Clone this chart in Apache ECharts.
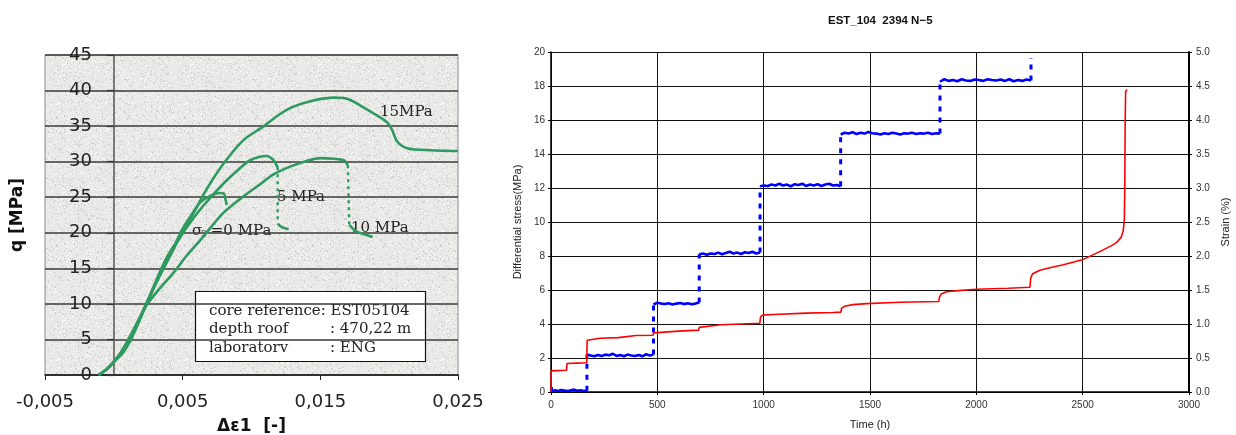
<!DOCTYPE html>
<html>
<head>
<meta charset="utf-8">
<title>EST05104</title>
<script src="https://cdn.jsdelivr.net/npm/echarts@6/dist/echarts.min.js"></script>
<style>
html, body { margin: 0; padding: 0; background: #fff; }
#myChart { width: 1236px; height: 435px; }
</style>
</head>
<body>
<div id="myChart"></div>
<script>
// ---------- left chart: q [MPa] vs delta eps1 ----------
// sigma3 = 0 MPa
const sig0Strain = [-0.0011, -0.0005, 0.0002, 0.0009, 0.0016, 0.0023, 0.0030, 0.0037, 0.0044, 0.0050, 0.0057, 0.0063, 0.0070, 0.0077, 0.0080, 0.0081, 0.0082];
const sig0Q      = [0, 0.9, 2.3, 4.3, 6.8, 9.8, 12.8, 15.6, 18.2, 20.6, 22.7, 24.3, 25.2, 25.6, 25.5, 24.8, 23.9];
// 5 MPa
const sig5Strain = [-0.0011, -0.0004, 0.0003, 0.0010, 0.0018, 0.0025, 0.0032, 0.0040, 0.0047, 0.0055, 0.0065, 0.0080, 0.0090, 0.0099, 0.0111, 0.0116, 0.0119];
const sig5Q      = [0, 1.0, 2.5, 4.6, 7.6, 10.5, 13.4, 16.4, 19.0, 21.3, 23.8, 27.0, 28.8, 30.2, 30.8, 30.2, 29.2];
const sig5TailStrain = [0.0119, 0.0122, 0.0127];
const sig5TailQ      = [21.3, 20.8, 20.5];
// 10 MPa
const sig10Strain = [-0.0011, -0.0004, 0.0003, 0.0010, 0.0017, 0.0023, 0.0033, 0.0043, 0.0053, 0.0063, 0.0079, 0.0092, 0.0104, 0.0116, 0.0128, 0.0140, 0.0150, 0.0160, 0.0167, 0.0170];
const sig10Q      = [0, 1.0, 2.6, 4.8, 7.4, 9.6, 12.1, 14.3, 16.8, 19.0, 22.7, 24.8, 26.5, 28.2, 29.3, 30.1, 30.5, 30.4, 30.2, 29.5];
const sig10TailStrain = [0.0171, 0.0176, 0.0182, 0.0188];
const sig10TailQ      = [21.1, 20.2, 19.8, 19.4];
// 15 MPa
const sig15Strain = [-0.0011, -0.0005, 0.0000, 0.0007, 0.0013, 0.0019, 0.0025, 0.0031, 0.0037, 0.0043, 0.0048, 0.0058, 0.0067, 0.0080, 0.0094, 0.0109, 0.0120, 0.0130, 0.0145, 0.0160, 0.0170, 0.0185, 0.0198, 0.0202, 0.0206, 0.0213, 0.0230, 0.0250];
const sig15Q      = [0, 0.8, 1.8, 3.2, 5.2, 7.8, 10.6, 13.4, 16.0, 18.0, 19.3, 22.8, 26.0, 29.8, 33.0, 35.0, 36.6, 37.7, 38.6, 39.0, 38.8, 37.2, 35.6, 34.5, 32.8, 31.9, 31.6, 31.5];

// ---------- right chart: creep test ----------
// stress plateaus (MPa) between the load steps
const stressStepTimes = [169, 482, 697, 983, 1362, 1829, 2257];
const stressPlateau1 = [0.05, 0.1, 0.06, 0.12, 0.08, 0.05, 0.1, 0.14, 0.07, 0.1, 0.06, 0.08];
const stressPlateau2 = [2.2, 2.15, 2.1, 2.18, 2.12, 2.2, 2.16, 2.25, 2.12, 2.18, 2.1, 2.2, 2.15, 2.12, 2.18, 2.1, 2.22, 2.15, 2.2];
const stressPlateau3 = [5.15, 5.25, 5.2, 5.18, 5.22, 5.15, 5.2, 5.24, 5.17, 5.22, 5.16, 5.2, 5.26];
const stressPlateau4 = [8.1, 8.15, 8.08, 8.15, 8.12, 8.2, 8.1, 8.18, 8.25, 8.15, 8.2, 8.12, 8.22, 8.18, 8.25, 8.15, 8.2];
const stressPlateau5 = [12.1, 12.15, 12.12, 12.2, 12.15, 12.25, 12.15, 12.2, 12.1, 12.22, 12.18, 12.25, 12.12, 12.2, 12.15, 12.22, 12.12, 12.2, 12.25, 12.15, 12.18, 12.1];
const stressPlateau6 = [15.15, 15.25, 15.2, 15.28, 15.18, 15.25, 15.2, 15.3, 15.22, 15.2, 15.15, 15.22, 15.18, 15.25, 15.2, 15.15, 15.22, 15.2, 15.25, 15.18, 15.22, 15.2, 15.25, 15.18, 15.22, 15.2];
const stressPlateau7 = [18.25, 18.4, 18.3, 18.35, 18.28, 18.4, 18.32, 18.3, 18.38, 18.35, 18.3, 18.4, 18.35, 18.32, 18.38, 18.3, 18.4, 18.28, 18.35, 18.3, 18.38, 18.32];
const stressStartSpike = [[2, 0], [2, 0.6]];
const stressLast = 19.65;

// strain (%)
const strainTime = [0, 1, 20, 73, 75, 120, 168, 170, 175, 230, 316, 319, 400, 480, 483, 490, 600, 694, 697, 705, 800, 982, 985, 995, 1045, 1200, 1327, 1363, 1366, 1380, 1420, 1484, 1641, 1823, 1827, 1835, 1859, 1930, 2001, 2150, 2252, 2256, 2265, 2299, 2350, 2409, 2503, 2597, 2640, 2660, 2680, 2690, 2696, 2698, 2700, 2702, 2709];
const strainValue = [0, 0.31, 0.315, 0.32, 0.42, 0.425, 0.43, 0.76, 0.775, 0.79, 0.80, 0.82, 0.83, 0.835, 0.87, 0.88, 0.895, 0.91, 0.95, 0.97, 0.99, 1.01, 1.10, 1.13, 1.14, 1.16, 1.17, 1.175, 1.23, 1.26, 1.285, 1.30, 1.32, 1.33, 1.40, 1.44, 1.475, 1.495, 1.51, 1.525, 1.54, 1.68, 1.74, 1.79, 1.83, 1.87, 1.95, 2.09, 2.16, 2.20, 2.27, 2.36, 2.53, 3.0, 4.0, 4.42, 4.45];

const zip = (xs, ys) => xs.map((x, i) => [x, ys[i]]);

// blue: solid plateaus, dashed jumps
const plateaus = [stressPlateau1, stressPlateau2, stressPlateau3, stressPlateau4, stressPlateau5, stressPlateau6, stressPlateau7];
const plateauData = [];
const jumpData = stressStartSpike.slice();
jumpData.push(null);
plateaus.forEach((vals, i) => {
  const t0 = i === 0 ? 3 : stressStepTimes[i - 1];
  const t1 = stressStepTimes[i];
  vals.forEach((v, k) => plateauData.push([t0 + (t1 - t0) * k / (vals.length - 1), v]));
  plateauData.push(null);
  const next = i + 1 < plateaus.length ? plateaus[i + 1][0] : stressLast;
  jumpData.push([t1, vals[vals.length - 1]], [t1, next], null);
});

// newsprint-like fill for the left plot
function makeNoise() {
  const size = 128;
  const c = document.createElement('canvas');
  c.width = c.height = size;
  const ctx = c.getContext('2d');
  ctx.fillStyle = '#e9e9e7';
  ctx.fillRect(0, 0, size, size);
  let s = 20231;
  const next = () => { s = (s * 1103515245 + 12345) >>> 0; return s >>> 16; };
  const shades = ['#c2c2c0', '#cfcfcd', '#d8d8d6', '#f7f7f5', '#ffffff', '#fbfbfb'];
  for (let i = 0; i < 10000; i++) {
    ctx.fillStyle = shades[next() % shades.length];
    ctx.fillRect(next() % size, next() % size, 1, 1);
  }
  return c;
}

const green = '#2e9a60';
const serif = '"DejaVu Serif", serif';
const greenLine = { color: green, width: 2.6 };
const greenDash = { color: green, width: 2.4, type: [3, 4] };
const plain = v => String(v);

const myChart = echarts.init(document.getElementById('myChart'));
myChart.setOption({
  backgroundColor: '#fff',
  animation: false,
  title: {
    text: 'EST_104  2394 N\u22125',
    left: 823, top: 10,
    textStyle: { fontFamily: '"Liberation Sans", Arial', fontWeight: 'bold', fontSize: 11.5, color: '#111' }
  },
  grid: [
    { left: 45, top: 55, width: 413, height: 320, show: true, containLabel: false, outerBoundsMode: 'none',
      backgroundColor: { image: makeNoise(), repeat: 'repeat' },
      borderColor: '#8a8a8a', borderWidth: 1 },
    { left: 551, top: 52, width: 638, height: 340, show: false, containLabel: false, outerBoundsMode: 'none' }
  ],
  xAxis: [
    {
      gridIndex: 0, type: 'value', min: -0.005, max: 0.025, interval: 0.01,
      name: '\u0394\u03b51  [-]', nameLocation: 'middle', nameGap: 43, nameMoveOverlap: false,
      nameTextStyle: { fontFamily: '"DejaVu Sans"', fontWeight: 'bold', fontSize: 17, color: '#111' },
      axisLine: { onZero: false, lineStyle: { color: '#222', width: 1.5 } },
      axisTick: { length: 5, lineStyle: { color: '#222' } },
      axisLabel: { margin: 18, fontFamily: '"DejaVu Sans"', fontSize: 18, color: '#222',
        formatter: v => v.toFixed(3).replace('.', ','), showMinLabel: true, showMaxLabel: true },
      splitLine: { show: false }
    },
    {
      gridIndex: 1, type: 'value', min: 0, max: 3000, interval: 500,
      name: 'Time (h)', nameLocation: 'middle', nameGap: 27,
      nameTextStyle: { fontFamily: '"Liberation Sans"', fontSize: 11, color: '#222' },
      axisLine: { lineStyle: { color: '#000', width: 1.5 } },
      axisTick: { length: 3, lineStyle: { color: '#000' } },
      axisLabel: { margin: 8, fontFamily: '"Liberation Sans"', fontSize: 10, color: '#333', formatter: plain },
      splitLine: { show: true, lineStyle: { color: '#111', width: 1 } }
    }
  ],
  yAxis: [
    {
      // labels only, kept at the plot edge and pushed inward
      gridIndex: 0, type: 'value', min: 0, max: 45, interval: 5, position: 'left',
      name: 'q [MPa]', nameLocation: 'middle', nameGap: 19, nameRotate: 90, nameMoveOverlap: false,
      nameTextStyle: { fontFamily: '"DejaVu Sans"', fontWeight: 'bold', fontSize: 17, color: '#111' },
      axisLine: { show: false, onZero: false },
      axisTick: { show: false },
      axisLabel: { margin: -47, fontFamily: '"DejaVu Sans"', fontSize: 18, color: '#222' },
      splitLine: { show: true, lineStyle: { color: '#3a3a3a', width: 1.5 } }
    },
    {
      gridIndex: 1, type: 'value', min: 0, max: 20, interval: 2, position: 'left',
      name: 'Differential stress(MPa)', nameLocation: 'middle', nameGap: 24, nameRotate: 90,
      nameTextStyle: { fontFamily: '"Liberation Sans"', fontSize: 11, color: '#222' },
      axisLine: { show: true, lineStyle: { color: '#000', width: 1.5 } },
      axisTick: { show: true, length: 3, lineStyle: { color: '#000' } },
      axisLabel: { margin: 6, fontFamily: '"Liberation Sans"', fontSize: 10, color: '#333' },
      splitLine: { show: true, lineStyle: { color: '#111', width: 1 } }
    },
    {
      gridIndex: 1, type: 'value', min: 0, max: 5, interval: 0.5, position: 'right',
      name: 'Strain (%)', nameLocation: 'middle', nameGap: 30, nameRotate: 90,
      nameTextStyle: { fontFamily: '"Liberation Sans"', fontSize: 11, color: '#222' },
      axisLine: { show: true, lineStyle: { color: '#000', width: 2 } },
      axisTick: { show: true, length: 3, lineStyle: { color: '#000' } },
      axisLabel: { margin: 7, fontFamily: '"Liberation Sans"', fontSize: 10, color: '#333',
        formatter: v => v.toFixed(1) },
      splitLine: { show: false }
    },
    {
      // axis line crossing at strain 0, with its ticks
      gridIndex: 0, type: 'value', min: 0, max: 45, interval: 5, position: 'left',
      axisLine: { show: true, onZero: true, lineStyle: { color: '#555', width: 1.5 } },
      axisTick: { show: true, length: 7, lineStyle: { color: '#333', width: 1.2 } },
      axisLabel: { show: false },
      splitLine: { show: false }
    }
  ],
  series: [
    // left chart curves
    { type: 'line', xAxisIndex: 0, yAxisIndex: 0, data: zip(sig0Strain, sig0Q), showSymbol: false, smooth: 0.3, lineStyle: greenLine },
    { type: 'line', xAxisIndex: 0, yAxisIndex: 0, data: zip(sig10Strain, sig10Q), showSymbol: false, smooth: 0.3, lineStyle: greenLine },
    { type: 'line', xAxisIndex: 0, yAxisIndex: 0, data: zip(sig5Strain, sig5Q), showSymbol: false, smooth: 0.3, lineStyle: greenLine },
    { type: 'line', xAxisIndex: 0, yAxisIndex: 0, data: zip(sig15Strain, sig15Q), showSymbol: false, smooth: 0.3, lineStyle: greenLine },
    { type: 'line', xAxisIndex: 0, yAxisIndex: 0, showSymbol: false, lineStyle: greenDash,
      data: [[sig5Strain[sig5Strain.length - 1], sig5Q[sig5Q.length - 1]], [sig5TailStrain[0], sig5TailQ[0]]] },
    { type: 'line', xAxisIndex: 0, yAxisIndex: 0, data: zip(sig5TailStrain, sig5TailQ), showSymbol: false, smooth: 0.3, lineStyle: greenLine },
    { type: 'line', xAxisIndex: 0, yAxisIndex: 0, showSymbol: false, lineStyle: greenDash,
      data: [[sig10Strain[sig10Strain.length - 1], sig10Q[sig10Q.length - 1]], [sig10TailStrain[0], sig10TailQ[0]]] },
    { type: 'line', xAxisIndex: 0, yAxisIndex: 0, data: zip(sig10TailStrain, sig10TailQ), showSymbol: false, smooth: 0.3, lineStyle: greenLine },
    // right chart
    { type: 'line', xAxisIndex: 1, yAxisIndex: 1, data: plateauData, showSymbol: false, connectNulls: false,
      lineStyle: { color: '#0000ff', width: 2.6 } },
    { type: 'line', xAxisIndex: 1, yAxisIndex: 1, data: jumpData, showSymbol: false, connectNulls: false,
      lineStyle: { color: '#0000ff', width: 3, type: [5, 6] } },
    { type: 'line', xAxisIndex: 1, yAxisIndex: 2, data: zip(strainTime, strainValue), showSymbol: false,
      lineStyle: { color: '#ff0000', width: 1.6 } }
  ],
  graphic: [
    { type: 'text', x: 380, y: 112, style: { text: '15MPa', font: '15px ' + serif, fill: '#222', verticalAlign: 'middle' } },
    { type: 'text', x: 277, y: 197, style: { text: '5 MPa', font: '15px ' + serif, fill: '#222', verticalAlign: 'middle' } },
    { type: 'text', x: 351, y: 228, style: { text: '10 MPa', font: '15px ' + serif, fill: '#222', verticalAlign: 'middle' } },
    { type: 'text', x: 192, y: 231, style: { text: '\u03c3', font: '15px ' + serif, fill: '#222', verticalAlign: 'middle' } },
    { type: 'text', x: 201, y: 235, style: { text: '3', font: '9px ' + serif, fill: '#222', verticalAlign: 'middle' } },
    { type: 'text', x: 206, y: 231, style: { text: ' =0 MPa', font: '15px ' + serif, fill: '#222', verticalAlign: 'middle' } },
    { type: 'rect', shape: { x: 195.5, y: 291.5, width: 230, height: 70 }, style: { fill: '#fff', stroke: '#111', lineWidth: 1.2 } },
    { type: 'text', x: 209, y: 311, style: { text: 'core reference: EST05104', font: '15px ' + serif, fill: '#222', verticalAlign: 'middle' } },
    { type: 'text', x: 209, y: 329, style: { text: 'depth roof', font: '15px ' + serif, fill: '#222', verticalAlign: 'middle' } },
    { type: 'text', x: 330, y: 329, style: { text: ': 470,22 m', font: '15px ' + serif, fill: '#222', verticalAlign: 'middle' } },
    { type: 'text', x: 209, y: 348, style: { text: 'laboratorv', font: '15px ' + serif, fill: '#222', verticalAlign: 'middle' } },
    { type: 'text', x: 330, y: 348, style: { text: ': ENG', font: '15px ' + serif, fill: '#222', verticalAlign: 'middle' } }
  ]
});
</script>
</body>
</html>
